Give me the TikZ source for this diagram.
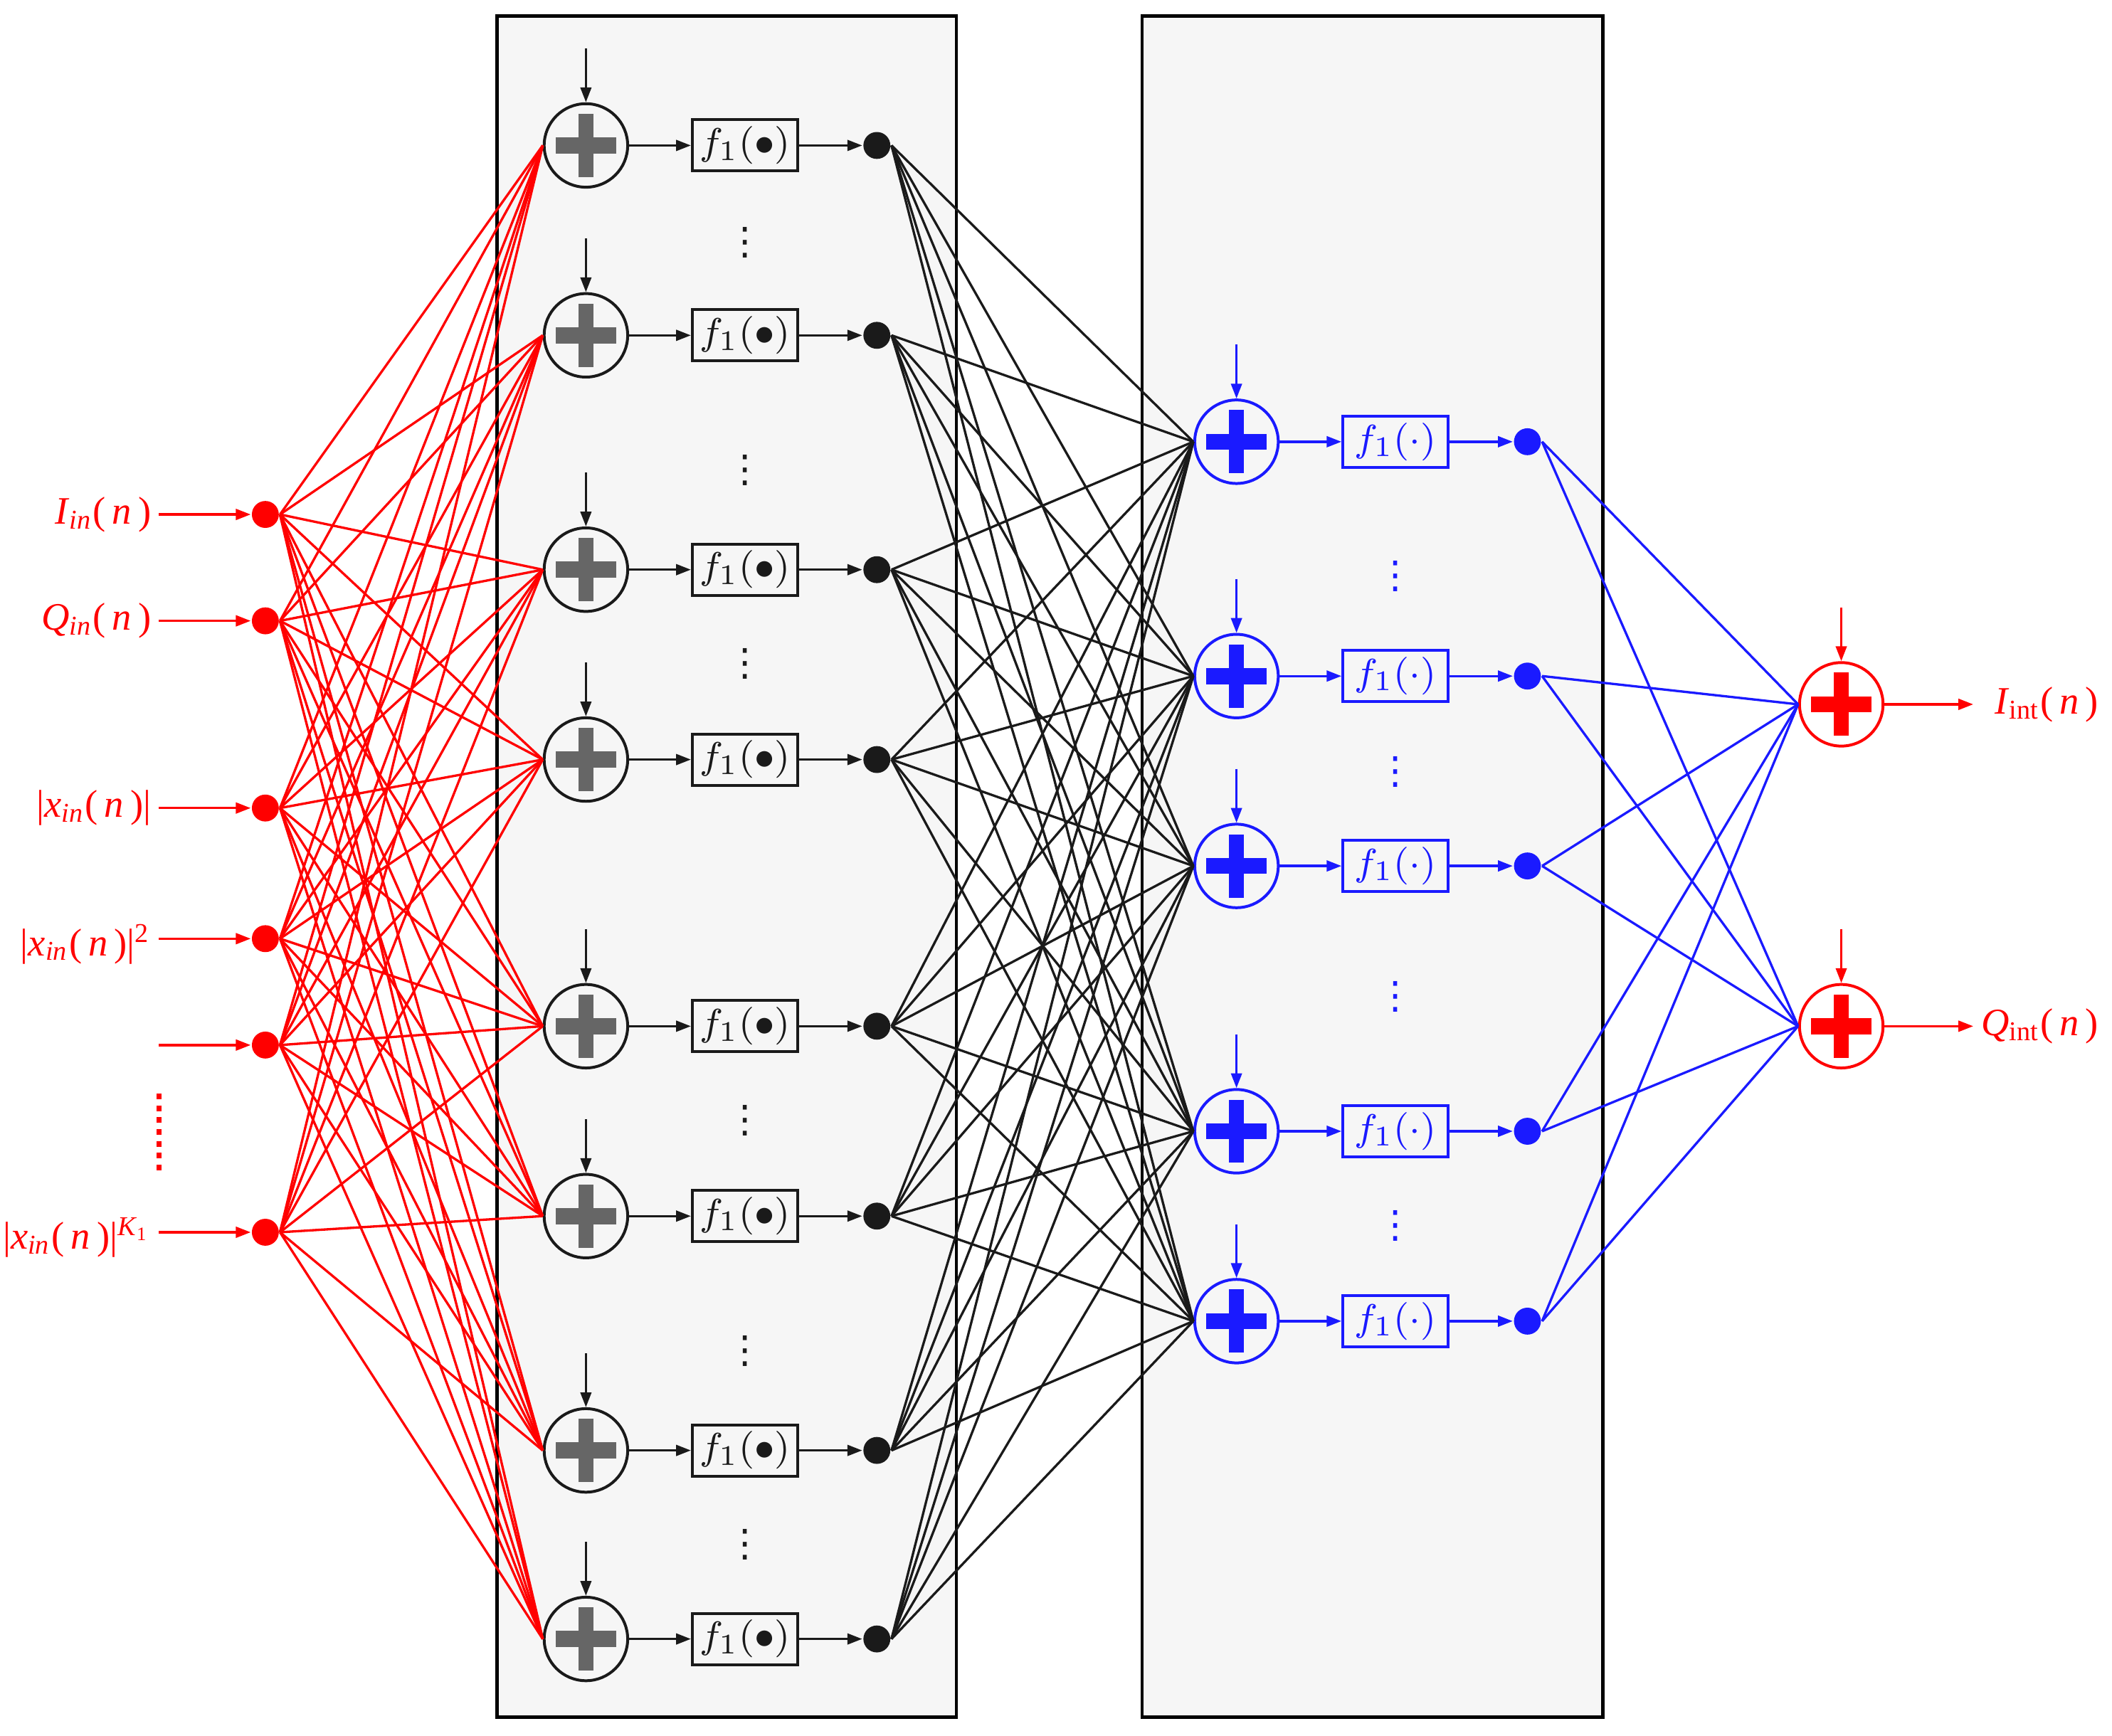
\documentclass[tikz,border=0pt]{standalone}
\usepackage{fontspec}
\newfontfamily\dotsfont{DejaVu Sans}
\newfontfamily\sigfont{Liberation Serif}
\usetikzlibrary{arrows.meta}
\definecolor{nnred}{RGB}{255,0,0}
\definecolor{nnblue}{RGB}{26,26,255}
\definecolor{nnblack}{RGB}{26,26,26}
\definecolor{nngray}{RGB}{102,102,102}
\definecolor{panelgray}{RGB}{246,246,246}
\begin{document}
\begin{tikzpicture}[x=0.1mm, y=-0.1mm, line width=0.5pt,
    >={Triangle[length=1.1mm, width=0.8mm]},
    panel/.style = {draw=black, fill=panelgray, line width=0.7pt},
    sumnode/.style = {draw=#1, circle, line width=0.6pt, minimum size=6.2mm, inner sep=0pt},
    plussign/.style = {path picture={
        \fill[#1] ([shift={(-2.25mm,-0.6mm)}]path picture bounding box.center) rectangle ([shift={(2.25mm,0.6mm)}]path picture bounding box.center);
        \fill[#1] ([shift={(-0.55mm,-2.35mm)}]path picture bounding box.center) rectangle ([shift={(0.55mm,2.35mm)}]path picture bounding box.center);}},
    actbox/.style = {draw=#1, text=#1, rectangle, line width=0.6pt, minimum width=7.8mm, minimum height=3.8mm, inner sep=0pt, font=\footnotesize},
    neuron/.style = {fill=#1, circle, minimum size=2mm, inner sep=0pt},
    vdotsnode/.style = {text=#1, inner sep=0pt, font=\dotsfont\footnotesize},
    sig/.style = {text=nnred, inner sep=0.5mm, font=\sigfont\fontsize{8.2}{10}\selectfont}]
    \useasboundingbox (0,0) rectangle (1568,1289);

    % panels
    \draw[panel] (369,12) rectangle (710,1275);
    \draw[panel] (848,12) rectangle (1190,1275);

    % input layer
    \foreach \y [count=\i] in {382,461,600,697,776,915} {
        \node[neuron=nnred] (in\i) at (197,\y) {};
        \coordinate (src\i) at (118,\y);
        \draw[->, nnred] (src\i) -- (in\i);
    }
    \node[sig, anchor=east] (lab1) at (src1) {\textit{I}\textsubscript{\textit{in}}(\,\textit{n}\,)};
    \node[sig, anchor=east] (lab2) at (src2) {\textit{Q}\textsubscript{\textit{in}}(\,\textit{n}\,)};
    \node[sig, anchor=east] (lab3) at (src3) {|\textit{x}\textsubscript{\textit{in}}(\,\textit{n}\,)|};
    \node[sig, anchor=east] (lab4) at ([yshift=-0.4mm]src4) {|\textit{x}\textsubscript{\textit{in}}(\,\textit{n}\,)|\textsuperscript{2}};
    \node[sig, anchor=east] (lab6) at ([yshift=-0.4mm]src6) {|\textit{x}\textsubscript{\textit{in}}(\,\textit{n}\,)|\textsuperscript{\textit{K}\textsubscript{1}}};
    \draw[nnred, line width=1pt, dash pattern=on 1.2pt off 1.3pt] (118,812) -- (118,870);

    % first hidden layer
    \foreach \y [count=\j] in {108,249,423,564,762,903,1077,1217} {
        \node[sumnode=nnblack, plussign=nngray] (h\j) at (435,\y) {};
        \node[actbox=nnblack] (f\j) at (553,\y) {$f_1(\bullet)$};
        \node[neuron=nnblack] (o\j) at (651,\y) {};
        \coordinate (b\j) at ([yshift=4mm]h\j.north);
        \draw[->, nnblack] (b\j) -- (h\j);
        \draw[->, nnblack] (h\j) -- (f\j);
        \draw[->, nnblack] (f\j) -- (o\j);
    }
    \foreach \y [count=\k] in {180,349,493,832,1003,1147}
        \node[vdotsnode=nnblack] (vd\k) at (553,\y) {⋮};

    % second hidden layer
    \foreach \y [count=\k] in {328,502,643,840,981} {
        \node[sumnode=nnblue, plussign=nnblue] (s\k) at (918,\y) {};
        \node[actbox=nnblue] (g\k) at (1036,\y) {$f_1(\cdot)$};
        \node[neuron=nnblue] (ob\k) at (1134,\y) {};
        \coordinate (c\k) at ([yshift=4mm]s\k.north);
        \draw[->, nnblue] (c\k) -- (s\k);
        \draw[->, nnblue] (s\k) -- (g\k);
        \draw[->, nnblue] (g\k) -- (ob\k);
    }
    \foreach \y [count=\k] in {428,573,740,910}
        \node[vdotsnode=nnblue] (vb\k) at (1036,\y) {⋮};

    % output layer
    \foreach \y [count=\m] in {523,762} {
        \node[sumnode=nnred, plussign=nnred] (y\m) at (1367,\y) {};
        \coordinate (d\m) at ([yshift=4mm]y\m.north);
        \coordinate (z\m) at (1465,\y);
        \draw[->, nnred] (d\m) -- (y\m);
        \draw[->, nnred] (y\m) -- (z\m);
    }
    \node[sig, anchor=west] (out1) at ([xshift=1mm]z1) {\textit{I}\textsubscript{int}(\,\textit{n}\,)};
    \node[sig, anchor=west] (out2) at (z2) {\textit{Q}\textsubscript{int}(\,\textit{n}\,)};

    % weights
    \foreach \i in {1,...,6}
        \foreach \j in {1,...,8}
            \draw[nnred] (in\i.east) -- (h\j.west);
    \foreach \j in {1,...,8}
        \foreach \k in {1,...,5}
            \draw[nnblack] (o\j.east) -- (s\k.west);
    \foreach \k in {1,...,5}
        \foreach \m in {1,2}
            \draw[nnblue] (ob\k.east) -- (y\m.west);
\end{tikzpicture}
\end{document}
